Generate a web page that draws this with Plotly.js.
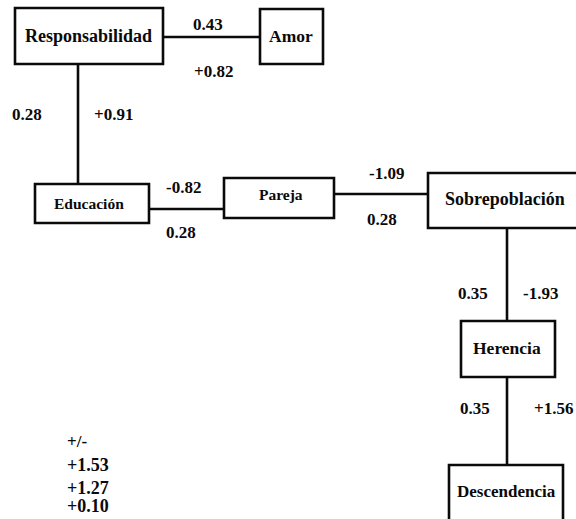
<!DOCTYPE html>
<html>
<head>
<meta charset="utf-8">
<script src="https://cdn.plot.ly/plotly-3.0.1.min.js"></script>
<style>html,body{margin:0;padding:0;background:#fff;}#chart{width:576px;height:519px;}</style>
</head>
<body>
<div id="chart"></div>
<script>
// ---- data ----
const nodes = ["Responsabilidad", "Amor", "Educación", "Pareja", "Sobrepoblación", "Herencia", "Descendencia"];
const edgeFrom = ["Responsabilidad", "Responsabilidad", "Educación", "Pareja", "Sobrepoblación", "Herencia"];
const edgeTo = ["Amor", "Educación", "Pareja", "Sobrepoblación", "Herencia", "Descendencia"];
const edgeLabelA = ["0.43", "0.28", "-0.82", "-1.09", "0.35", "0.35"];
const edgeLabelB = ["+0.82", "+0.91", "0.28", "0.28", "-1.93", "+1.56"];
const legendLines = ["+/-", "+1.53", "+1.27", "+0.10"];

// ---- geometry (pixel-like data coordinates) ----
const boxes = {
  "Responsabilidad": {x0: 15, x1: 163, y0: 8, y1: 64, tx: 88, ty: 36, fs: 18},
  "Amor": {x0: 260, x1: 323, y0: 9, y1: 64, tx: 291, ty: 36, fs: 17.5},
  "Educación": {x0: 35, x1: 149, y0: 184, y1: 223, tx: 89, ty: 203, fs: 15.5},
  "Pareja": {x0: 224, x1: 334, y0: 178, y1: 218, tx: 281, ty: 194, fs: 15.5},
  "Sobrepoblación": {x0: 428, x1: 582, y0: 173, y1: 228, tx: 505, ty: 199, fs: 18},
  "Herencia": {x0: 461, x1: 555, y0: 321, y1: 377, tx: 507, ty: 348, fs: 17.5},
  "Descendencia": {x0: 449, x1: 563, y0: 465, y1: 530, tx: 506, ty: 491, fs: 17}
};
// edge routing: horizontal edges at given y, vertical at given x
const edgeGeom = [
  {dir: "h", at: 37, la: [208, 24], lb: [213, 71], ancB: "center"},
  {dir: "v", at: 78, la: [27, 114], lb: [113, 114], ancB: "center"},
  {dir: "h", at: 209, la: [183, 187], lb: [181, 232], ancB: "center"},
  {dir: "h", at: 194, la: [386, 173], lb: [382, 219], ancB: "center"},
  {dir: "v", at: 507, la: [473, 293], lb: [540, 293], ancB: "center"},
  {dir: "v", at: 507, la: [475, 408], lb: [575, 408], ancB: "right"}
];

const ex = [], ey = [];
edgeFrom.forEach((f, i) => {
  const a = boxes[f], b = boxes[edgeTo[i]], g = edgeGeom[i];
  if (g.dir === "h") { ex.push(a.x1, b.x0, null); ey.push(g.at, g.at, null); }
  else { ex.push(g.at, g.at, null); ey.push(a.y1, b.y0, null); }
});

const font = "Liberation Serif";
const ink = "#0a0a0a";
const shapes = nodes.map(n => {
  const b = boxes[n];
  return {type: "rect", xref: "x", yref: "y", x0: b.x0, x1: b.x1, y0: b.y0, y1: b.y1,
          line: {color: ink, width: 2.6}, fillcolor: "rgba(0,0,0,0)"};
});
const ann = [];
nodes.forEach(n => {
  const b = boxes[n];
  ann.push({x: b.tx, y: b.ty, xref: "x", yref: "y", text: "<b>" + n + "</b>", showarrow: false,
            xanchor: "center", yanchor: "middle", font: {family: font, size: b.fs, color: ink}});
});
edgeGeom.forEach((g, i) => {
  ann.push({x: g.la[0], y: g.la[1], xref: "x", yref: "y", text: "<b>" + edgeLabelA[i] + "</b>", showarrow: false,
            xanchor: "center", yanchor: "middle", font: {family: font, size: 17, color: ink}});
  ann.push({x: g.lb[0], y: g.lb[1], xref: "x", yref: "y", text: "<b>" + edgeLabelB[i] + "</b>", showarrow: false,
            xanchor: g.ancB, yanchor: "middle", font: {family: font, size: 17, color: ink}});
});
const legendY = [441, 465, 488, 518];
const legendAnchor = ["middle", "middle", "middle", "bottom"];
legendLines.forEach((t, i) => {
  ann.push({x: 65, y: legendY[i], xref: "x", yref: "y", text: "<b>" + t + "</b>", showarrow: false,
            xanchor: "left", yanchor: legendAnchor[i], font: {family: font, size: i === 0 ? 17 : 18, color: ink}});
});

const traces = [{x: ex, y: ey, type: "scatter", mode: "lines", line: {color: ink, width: 2.6},
                 hoverinfo: "skip", showlegend: false, cliponaxis: false}];
const layout = {
  width: 576, height: 519, margin: {l: 0, r: 0, t: 0, b: 0},
  paper_bgcolor: "#fff", plot_bgcolor: "#fff",
  xaxis: {range: [0, 576], visible: false, fixedrange: true},
  yaxis: {range: [519, 0], visible: false, fixedrange: true},
  shapes: shapes, annotations: ann, showlegend: false
};
Plotly.newPlot("chart", traces, layout, {displayModeBar: false, staticPlot: true});
</script>
</body>
</html>
